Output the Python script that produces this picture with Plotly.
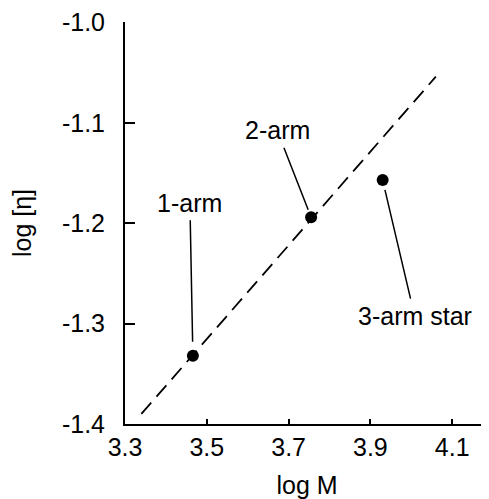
import plotly.graph_objects as go

# Data
arm_labels = ["1-arm", "2-arm", "3-arm star"]
log_M = [3.466, 3.755, 3.930]
log_eta = [-1.332, -1.194, -1.157]

# dashed reference line endpoints (log M, log [eta])
fit_M = [3.340, 4.060]
fit_eta = [-1.390, -1.054]

x_tickvals = [3.3, 3.5, 3.7, 3.9, 4.1]
x_ticktext = ["3.3", "3.5", "3.7", "3.9", "4.1"]
y_tickvals = [-1.4, -1.3, -1.2, -1.1, -1.0]
y_ticktext = ["-1.4", "-1.3", "-1.2", "-1.1", "-1.0"]

# label offsets (pixels) from each point to its text, and leader standoff
label_ax = [-3, -34, 32]
label_ay = [-153, -87, 136]
label_standoff = [14, 8, 10]

FONT = "Liberation Sans, Arial, Helvetica, sans-serif"
FS = 25

fig = go.Figure()
fig.add_trace(go.Scatter(
    x=fit_M, y=fit_eta, mode="lines",
    line=dict(color="black", width=1.8, dash="15px,8px"),
    hoverinfo="skip", showlegend=False,
))
fig.add_trace(go.Scatter(
    x=log_M, y=log_eta, mode="markers",
    marker=dict(color="black", size=12),
    showlegend=False,
))

for lab, xm, ye, ax, ay, so in zip(arm_labels, log_M, log_eta, label_ax, label_ay, label_standoff):
    fig.add_annotation(
        x=xm, y=ye, xref="x", yref="y", text=lab,
        showarrow=True, arrowhead=0, arrowwidth=1.5, arrowcolor="black",
        ax=ax, ay=ay, axref="pixel", ayref="pixel", standoff=so,
        borderpad=3,
        font=dict(family=FONT, size=FS, color="black"),
    )

# page body has an 8px margin, so the figure is sized/offset to compensate
fig.update_layout(
    width=481, height=491,
    margin=dict(l=117, r=0, t=14, b=75),
    paper_bgcolor="white", plot_bgcolor="white",
    font=dict(family=FONT, size=FS, color="black"),
    showlegend=False,
)
fig.update_xaxes(
    range=[3.3, 4.19],
    tickvals=x_tickvals, ticktext=x_ticktext,
    ticks="inside", ticklen=5, tickwidth=1.5, tickcolor="black",
    showline=True, linecolor="black", linewidth=2,
    showgrid=False, zeroline=False,
    ticklabelstandoff=0,
    title=dict(text="log M", standoff=35, font=dict(size=FS)),
    automargin=False,
)
fig.update_yaxes(
    range=[-1.4, -0.9995],
    tickvals=y_tickvals, ticktext=y_ticktext,
    ticks="inside", ticklen=10, tickwidth=1.5, tickcolor="black",
    showline=True, linecolor="black", linewidth=2,
    showgrid=False, zeroline=False,
    ticklabelstandoff=13,
    title=dict(text="log [η]", standoff=26, font=dict(size=FS)),
    automargin=False,
)

fig.write_html("out.html")
